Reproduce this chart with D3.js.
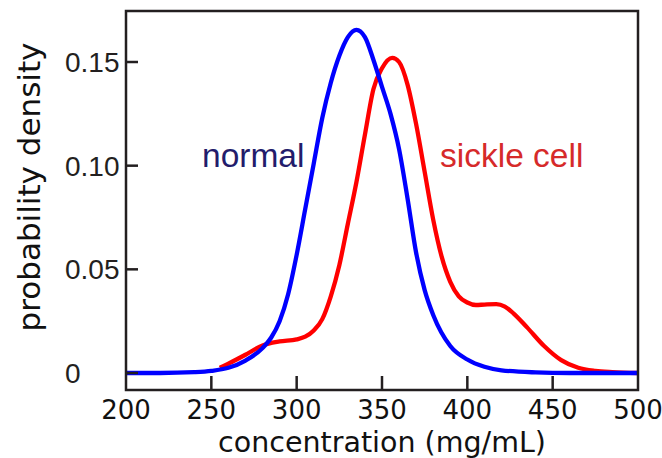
<!DOCTYPE html>
<html>
<head>
<meta charset="utf-8">
<script src="https://cdn.jsdelivr.net/npm/d3@7"></script>
<style>
  html, body { margin: 0; padding: 0; background: #fff; }
  svg { display: block; }
</style>
</head>
<body>
<svg id="chart" width="662" height="458"></svg>
<script>
// ---- data ----
const normalConc = [200, 220, 240, 250, 260, 270, 280, 285, 290, 295, 300, 305, 310, 315, 320, 325, 330, 335, 340, 345, 350, 355, 360, 365, 370, 375, 380, 390, 400, 410, 420, 440, 460, 500];
const normalDensity = [0, 0, 0.0004, 0.001, 0.0025, 0.006, 0.012, 0.017, 0.025, 0.038, 0.057, 0.079, 0.101, 0.123, 0.140, 0.153, 0.162, 0.1655, 0.162, 0.151, 0.138, 0.125, 0.108, 0.084, 0.058, 0.040, 0.028, 0.013, 0.0065, 0.003, 0.0013, 0.0003, 0, 0];

const sickleConc = [255, 260, 270, 280, 290, 300, 305, 310, 315, 320, 325, 330, 335, 340, 345, 350, 356, 360, 365, 370, 375, 380, 385, 390, 395, 400, 405, 410, 417, 422, 427, 435, 445, 455, 465, 475, 485, 500];
const sickleDensity = [0.0025, 0.0045, 0.0088, 0.0133, 0.0152, 0.0162, 0.0175, 0.0205, 0.026, 0.037, 0.052, 0.072, 0.092, 0.115, 0.137, 0.147, 0.152, 0.150, 0.139, 0.120, 0.097, 0.074, 0.056, 0.044, 0.037, 0.034, 0.0328, 0.033, 0.0332, 0.032, 0.0288, 0.022, 0.013, 0.0062, 0.0025, 0.001, 0.0004, 0];

const xTicks = [250, 300, 350, 400, 450];
const xTickLabels = [200, 250, 300, 350, 400, 450, 500];
const yTicks = [0, 0.05, 0.10, 0.15];
const yTickLabels = ["0", "0.05", "0.10", "0.15"];

const xDomain = [200, 500];
const yDomain = [-0.0082, 0.1746];

// ---- layout ----
const svg = d3.select("#chart");
const mLeft = 126, mRight = 638, mTop = 11, mBottom = 390;

const x = d3.scaleLinear().domain(xDomain).range([mLeft, mRight]);
const y = d3.scaleLinear().domain(yDomain).range([mBottom, mTop]);

const line = d3.line()
  .x(d => x(d[0]))
  .y(d => y(d[1]))
  .curve(d3.curveMonotoneX);

const sickle = sickleConc.map((c, i) => [c, sickleDensity[i]]);
const normal = normalConc.map((c, i) => [c, normalDensity[i]]);

// curves
svg.append("path")
  .attr("d", line(sickle))
  .attr("fill", "none")
  .attr("stroke", "#ff0000")
  .attr("stroke-width", 4.3);

svg.append("path")
  .attr("d", line(normal))
  .attr("fill", "none")
  .attr("stroke", "#0000ff")
  .attr("stroke-width", 4.3);

// frame
svg.append("rect")
  .attr("x", mLeft).attr("y", mTop)
  .attr("width", mRight - mLeft).attr("height", mBottom - mTop)
  .attr("fill", "none")
  .attr("stroke", "#231f20")
  .attr("stroke-width", 2.5);

// x ticks (inward)
svg.append("g").selectAll("line")
  .data(xTicks).join("line")
  .attr("x1", d => x(d)).attr("x2", d => x(d))
  .attr("y1", mBottom).attr("y2", mBottom - 14)
  .attr("stroke", "#231f20").attr("stroke-width", 2.5);

// y ticks (inward)
svg.append("g").selectAll("line")
  .data(yTicks).join("line")
  .attr("x1", mLeft).attr("x2", mLeft + 12)
  .attr("y1", d => y(d)).attr("y2", d => y(d))
  .attr("stroke", "#231f20").attr("stroke-width", 2.5);

// x tick labels
svg.append("g").selectAll("text")
  .data(xTickLabels).join("text")
  .attr("x", d => x(d))
  .attr("y", 419)
  .attr("text-anchor", "middle")
  .attr("font-family", "DejaVu Sans")
  .attr("font-size", 26)
  .attr("fill", "#111")
  .text(d => d);

// y tick labels
svg.append("g").selectAll("text")
  .data(yTicks).join("text")
  .attr("x", 65)
  .attr("y", d => y(d) + 10)
  .attr("text-anchor", "start")
  .attr("font-family", "Liberation Sans")
  .attr("font-size", 28)
  .attr("fill", "#231f20")
  .text((d, i) => yTickLabels[i]);

// axis titles
svg.append("text")
  .attr("x", 382).attr("y", 452)
  .attr("text-anchor", "middle")
  .attr("font-family", "DejaVu Sans")
  .attr("font-size", 28.5)
  .attr("fill", "#111")
  .text("concentration (mg/mL)");

svg.append("text")
  .attr("transform", "translate(40,187) rotate(-90)")
  .attr("text-anchor", "middle")
  .attr("font-family", "DejaVu Sans")
  .attr("font-size", 31)
  .attr("fill", "#111")
  .text("probability density");

// series labels
svg.append("text")
  .attr("x", 202).attr("y", 167)
  .attr("font-family", "Liberation Sans")
  .attr("font-size", 33.5)
  .attr("fill", "#231c6b")
  .text("normal");

svg.append("text")
  .attr("x", 440).attr("y", 167)
  .attr("font-family", "Liberation Sans")
  .attr("font-size", 33.5)
  .attr("fill", "#d62a2a")
  .text("sickle cell");
</script>
</body>
</html>
